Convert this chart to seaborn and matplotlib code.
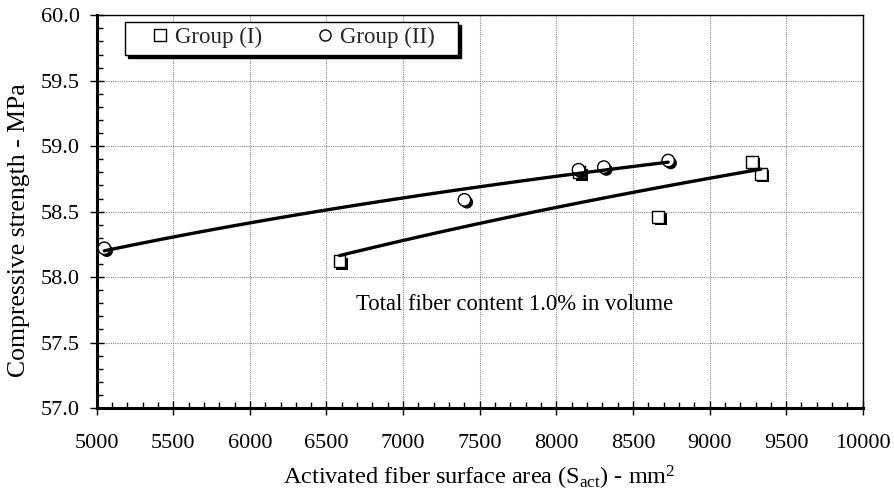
import numpy as np
import pandas as pd
import matplotlib
matplotlib.use("Agg")
import matplotlib.pyplot as plt
import matplotlib.patheffects as pe
from matplotlib.ticker import MultipleLocator, FormatStrFormatter
from matplotlib.lines import Line2D
from matplotlib.patches import Rectangle
import seaborn as sns

# Data
g1_x = [6585, 8150, 8665, 9275, 9335]
g1_y = [58.12, 58.80, 58.46, 58.88, 58.79]
g2_x = [5050, 7400, 8145, 8310, 8730]
g2_y = [58.22, 58.59, 58.82, 58.84, 58.89]
labels = ["Group (I)", "Group (II)"]
x_label = "Activated fiber surface area (S$_{\\rm act}$) - mm$^2$"
y_label = "Compressive strength - MPa"
note = "Total fiber content 1.0% in volume"

sns.set_theme(style="white")
plt.rcParams['font.family'] = ['Liberation Serif', 'DejaVu Serif']
plt.rcParams['mathtext.fontset'] = 'custom'
plt.rcParams['mathtext.rm'] = 'Liberation Serif'
plt.rcParams['mathtext.it'] = 'Liberation Serif:italic'

fig = plt.figure(figsize=(8.95, 4.91), dpi=100)
ax = fig.add_axes([0.108, 0.169, 0.856, 0.800])

df1 = pd.DataFrame({"x": g1_x, "y": g1_y})
df2 = pd.DataFrame({"x": g2_x, "y": g2_y})

# logarithmic trend lines (Excel-style)
def logfit(xs, ys):
    xs = np.asarray(xs, float); ys = np.asarray(ys, float)
    b, a = np.polyfit(np.log(xs), ys, 1)
    xx = np.linspace(xs.min(), xs.max(), 100)
    return pd.DataFrame({"x": xx, "y": a + b * np.log(xx)})

t1 = logfit(g1_x, g1_y)
t2 = logfit(g2_x, g2_y)

shadow = [pe.SimplePatchShadow(offset=(1.8, -1.8), shadow_rgbFace='black', alpha=1.0), pe.Normal()]

sns.scatterplot(data=df1, x="x", y="y", marker="s", s=72, facecolor="white",
                edgecolor="black", linewidth=1.0, ax=ax, zorder=3)
ax.collections[-1].set_path_effects(shadow)
sns.scatterplot(data=df2, x="x", y="y", marker="o", s=80, facecolor="white",
                edgecolor="black", linewidth=1.0, ax=ax, zorder=3)
ax.collections[-1].set_path_effects(shadow)

sns.lineplot(data=t1, x="x", y="y", color="black", linewidth=2.4, ax=ax, zorder=4)
sns.lineplot(data=t2, x="x", y="y", color="black", linewidth=2.4, ax=ax, zorder=4)

ax.set_xlim(5000, 10000)
ax.set_ylim(57.0, 60.0)
ax.xaxis.set_major_locator(MultipleLocator(500))
ax.xaxis.set_minor_locator(MultipleLocator(100))
ax.yaxis.set_major_locator(MultipleLocator(0.5))
ax.yaxis.set_minor_locator(MultipleLocator(0.1))
ax.yaxis.set_major_formatter(FormatStrFormatter('%.1f'))

ax.tick_params(axis='both', which='major', direction='inout', length=10, width=1.0,
               color='black', labelsize=16, labelcolor='black')
ax.tick_params(axis='x', which='major', pad=14)
ax.tick_params(axis='y', which='major', pad=7)
ax.tick_params(axis='both', which='minor', direction='in', length=4, width=1.0, color='black')
ax.tick_params(axis='x', which='both', bottom=True, top=False)
ax.tick_params(axis='y', which='both', left=True, right=False)

ax.grid(True, which='major', color='#888888', linestyle=(0, (1, 1)), linewidth=0.8)
for side in ['left', 'bottom']:
    ax.spines[side].set_linewidth(2.2)
    ax.spines[side].set_color('black')
for side in ['top', 'right']:
    ax.spines[side].set_linewidth(1.0)
    ax.spines[side].set_color('black')

ax.set_xlabel(x_label, fontsize=17.5, color='black', labelpad=7.5)
ax.set_ylabel(y_label, fontsize=18.5, color='black')
ax.yaxis.set_label_coords(-0.0875, 0.453)

ax.text(7728, 57.79, note, fontsize=16.3, ha='center', va='center', color='black')

# legend box with black drop shadow
bx0, bx1, by0, by1 = 0.0366, 0.471, 0.899, 0.983
ax.add_patch(Rectangle((bx0 + 0.004, by0 - 0.008), bx1 - bx0, by1 - by0, transform=ax.transAxes,
                       facecolor='black', edgecolor='black', zorder=9, clip_on=False))
ax.add_patch(Rectangle((bx0, by0), bx1 - bx0, by1 - by0, transform=ax.transAxes,
                       facecolor='white', edgecolor='black', linewidth=1.0, zorder=9.5, clip_on=False))

handles = [Line2D([], [], marker='s', linestyle='none', markerfacecolor='white',
                  markeredgecolor='black', markersize=8, markeredgewidth=1.0),
           Line2D([], [], marker='o', linestyle='none', markerfacecolor='white',
                  markeredgecolor='black', markersize=8, markeredgewidth=1.0)]
leg = ax.legend(handles, labels, ncol=2, loc='center left', bbox_to_anchor=(0.0718, 0.944),
                frameon=False, fontsize=16.5,
                handletextpad=0.3, columnspacing=2.4, borderpad=0.0, handlelength=0.7,
                borderaxespad=0.0)
leg.set_zorder(10)

fig.savefig("out.png", dpi=100)
